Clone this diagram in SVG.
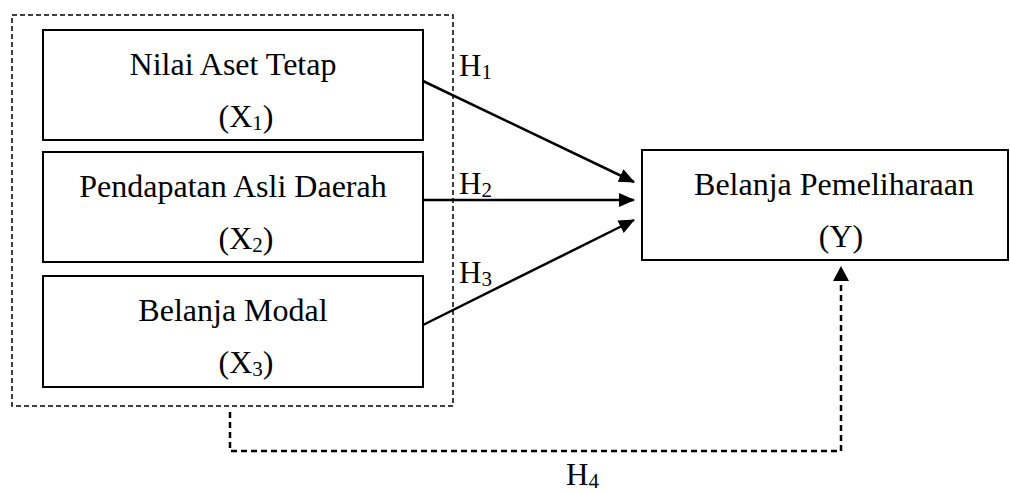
<svg xmlns="http://www.w3.org/2000/svg" width="1010" height="493" viewBox="0 0 1010 493">
<style>
.box{fill:#fff;stroke:#000;stroke-width:2}
.t{font-family:"Liberation Serif","Times New Roman",serif;font-size:32px;fill:#000;text-anchor:middle}
.h{font-family:"Liberation Serif","Times New Roman",serif;font-size:31px;fill:#000}
.sub{font-size:21px}
.arr{stroke:#000;stroke-width:2.5;fill:none;marker-end:url(#ah)}
</style>
<defs>
<marker id="ah" markerWidth="16" markerHeight="14" refX="15" refY="7" orient="auto" markerUnits="userSpaceOnUse">
<path d="M0,0 L16,7 L0,14 Z" fill="#000"/>
</marker>
</defs>
<rect x="0" y="0" width="1010" height="493" fill="#fff"/>
<g id="group-x">
<rect x="12" y="15" width="441" height="391" fill="none" stroke="#000" stroke-width="1.5" stroke-dasharray="5,3"/>
</g>
<g id="node-x1">
<rect class="box" x="43" y="30" width="380" height="110"/>
<text class="t" x="233" y="75">Nilai Aset Tetap</text>
<text class="t" x="246" y="127">(X<tspan class="sub" dy="3">1</tspan><tspan dy="-3">)</tspan></text>
</g>
<g id="node-x2">
<rect class="box" x="43" y="152" width="380" height="110"/>
<text class="t" x="233" y="197">Pendapatan Asli Daerah</text>
<text class="t" x="246" y="249">(X<tspan class="sub" dy="3">2</tspan><tspan dy="-3">)</tspan></text>
</g>
<g id="node-x3">
<rect class="box" x="43" y="276" width="380" height="111"/>
<text class="t" x="233" y="321">Belanja Modal</text>
<text class="t" x="246" y="373">(X<tspan class="sub" dy="3">3</tspan><tspan dy="-3">)</tspan></text>
</g>
<g id="node-y">
<rect class="box" x="642" y="150" width="366" height="110"/>
<text class="t" x="834" y="195">Belanja Pemeliharaan</text>
<text class="t" x="841" y="247">(Y)</text>
</g>
<g id="connectors">
<line class="arr" x1="423" y1="81" x2="634" y2="182"/>
<line class="arr" x1="423" y1="200" x2="634" y2="200"/>
<line class="arr" x1="423" y1="325" x2="634" y2="220"/>
<path d="M230,412 L230,451 L841,451 L841,280" fill="none" stroke="#000" stroke-width="2.5" stroke-dasharray="6,4"/>
<path d="M833,281 L841,266 L849,281 Z" fill="#000"/>
</g>
<g id="labels">
<text class="h" x="459" y="76">H<tspan class="sub" dy="3">1</tspan></text>
<text class="h" x="459" y="194">H<tspan class="sub" dy="3">2</tspan></text>
<text class="h" x="459" y="283">H<tspan class="sub" dy="3">3</tspan></text>
<text class="h" x="566" y="485">H<tspan class="sub" dy="3">4</tspan></text>
</g>
</svg>
